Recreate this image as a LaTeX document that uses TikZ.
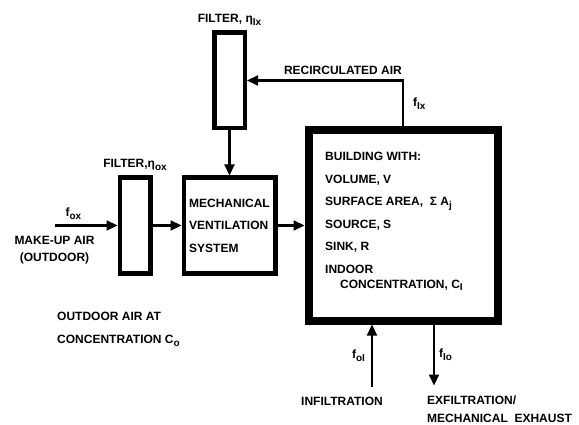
\documentclass[tikz,border=0pt]{standalone}
\usepackage{fontspec}
\setmainfont{Liberation Sans}
\usetikzlibrary{arrows.meta, positioning}

\newcommand{\lowsub}[1]{\raisebox{-0.45ex}{\fontsize{10}{10}\selectfont #1}}

\begin{document}
\begin{tikzpicture}[
    x=1pt, y=-1pt,
    font=\fontsize{12}{13}\selectfont\bfseries,
    filterbox/.style={rectangle, draw, line width=4.5pt, minimum width=30.5pt, minimum height=95.5pt, inner sep=0pt},
    unitbox/.style={rectangle, draw, line width=4.5pt, minimum width=91.5pt, minimum height=95.5pt, align=left, inner sep=2pt, font=\fontsize{12}{22.5}\selectfont\bfseries},
    roombox/.style={rectangle, draw, line width=8pt, minimum width=189pt, minimum height=190pt, inner sep=0pt},
    flow/.style={draw, line width=2.2pt, -{Triangle[length=11pt,width=10pt]}},
    txt/.style={inner sep=0pt}
]
\useasboundingbox (0,0) rectangle (579,425);

% Boxes
\node[filterbox] (fix) at (229.5,80.5) {};
\node[unitbox, below=45pt of fix] (mvs) {MECHANICAL\\VENTILATION\\SYSTEM};
\node[filterbox, left=29pt of mvs] (fox) {};
\node[roombox, right=27pt of mvs] (bldg) {};

% Filter labels
\node[txt, above=5pt of fix] (fixlabel) {FILTER, η\lowsub{Ix}};
\node[txt, above=5pt of fox] (foxlabel) {FILTER,η\lowsub{ox}};

% Building contents
\node[txt, anchor=north west, align=left, font=\fontsize{12}{22.5}\selectfont\bfseries] (bldgtext) at (325,152)
  {BUILDING WITH:\\VOLUME, V\\SURFACE AREA,\ \ Σ A\lowsub{j}\\SOURCE, S\\SINK, R\\INDOOR\\[-7.5pt]\hspace*{15pt}CONCENTRATION, C\lowsub{I}};

% Make-up air
\coordinate[left=63pt of fox] (inflow);
\draw[flow] (inflow) -- node[txt, above=5pt, pos=0.3] {f\lowsub{ox}} (fox);
\node[txt, below=11pt of inflow, align=center, font=\fontsize{12}{17}\selectfont\bfseries] (makeup) {MAKE-UP AIR\\(OUTDOOR)};
\draw[flow] (fox) -- (mvs);
\draw[flow] (mvs) -- (bldg);

% Recirculation
\coordinate (rc) at (bldg.north |- fix.east);
\draw[flow] (bldg.north) |- node[txt, pos=0.25, right=9pt] {f\lowsub{Ix}} (fix.east);
\node[txt, above left=6pt and 1pt of rc] (recirc) {RECIRCULATED AIR};
\draw[flow] (fix) -- (mvs);

% Outdoor air
\node[txt, anchor=north west, align=left, font=\fontsize{12}{23}\selectfont\bfseries] (outdoor) at (57,312)
  {OUTDOOR AIR AT\\CONCENTRATION C\lowsub{o}};

% Infiltration / exfiltration
\coordinate (infil) at ([xshift=-31pt, yshift=-62pt]bldg.south);
\coordinate (exfil) at ([xshift=31pt, yshift=-61pt]bldg.south);
\draw[flow] (infil) -- node[txt, left=6pt] {f\lowsub{oI}} (infil |- bldg.south);
\draw[flow] (exfil |- bldg.south) -- node[txt, right=4pt] {f\lowsub{Io}} (exfil);
\node[txt] (inftext) at ([xshift=-30pt, yshift=-15pt]infil) {INFILTRATION};
\node[txt, anchor=north west, align=left, font=\fontsize{12}{18}\selectfont\bfseries] (exftext) at ([xshift=-7pt, yshift=-10pt]exfil)
  {EXFILTRATION/\\MECHANICAL\ \ EXHAUST};

\end{tikzpicture}
\end{document}
